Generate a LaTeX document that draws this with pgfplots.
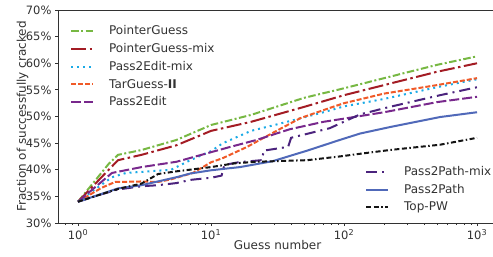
\documentclass[border=0pt]{standalone}
\usepackage{fontspec}
\setmainfont{DejaVu Sans}
\usepackage{pgfplots}
\pgfplotsset{compat=1.18}
\definecolor{cgreen}{RGB}{119,184,67}
\definecolor{cdred}{RGB}{163,28,36}
\definecolor{cdot}{RGB}{26,170,230}
\definecolor{corange}{RGB}{240,90,40}
\definecolor{cpurple}{RGB}{120,40,140}
\definecolor{cindigo}{RGB}{75,35,125}
\definecolor{cblue}{RGB}{80,105,185}
\definecolor{cblack}{RGB}{20,20,20}
\definecolor{cgray}{RGB}{50,50,50}
\tikzset{
  lnPG/.style={draw=cgreen, line width=2bp, dash pattern=on 7.5bp off 2.5bp on 2bp off 2.5bp},
  lnPGm/.style={draw=cdred, line width=2bp, dash pattern=on 15bp off 3.5bp on 2.5bp off 3.5bp},
  lnPEm/.style={draw=cdot, line width=2bp, dash pattern=on 2bp off 4bp},
  lnTG/.style={draw=corange, line width=2bp, dash pattern=on 5bp off 2bp},
  lnPE/.style={draw=cpurple, line width=2bp, dash pattern=on 10bp off 3bp},
  lnPPm/.style={draw=cindigo, line width=2bp, dash pattern=on 11bp off 5bp on 2bp off 5bp},
  lnPP/.style={draw=cblue, line width=2bp, solid},
  lnTop/.style={draw=cblack, line width=2bp, dash pattern=on 5bp off 2.5bp on 5bp off 2.5bp on 1.5bp off 2.5bp},
}
\begin{document}
\begin{tikzpicture}
\useasboundingbox (-58bp,-34bp) rectangle (435bp,223bp);
\begin{semilogxaxis}[
  scale only axis, width=439bp, height=213bp,
  xmin=0.707, xmax=1413, ymin=30, ymax=70,
  xtick={1,10,100,1000},
  xticklabels={10\textsuperscript{0},10\textsuperscript{1},10\textsuperscript{2},10\textsuperscript{3}},
  minor xtick={0.8,0.9,2,3,4,5,6,7,8,9,20,30,40,50,60,70,80,90,200,300,400,500,600,700,800,900},
  ytick={30,35,40,45,50,55,60,65,70},
  yticklabels={30\%,35\%,40\%,45\%,50\%,55\%,60\%,65\%,70\%},
  tick align=outside, tick pos=left,
  major tick length=3bp, minor tick length=2bp,
  axis line style={draw=cgray, line width=0.8bp},
  every tick/.style={cgray, line width=0.8bp},
  tick label style={font=\fontsize{11.5bp}{13bp}\selectfont, text=cgray},
  xlabel={Guess number}, ylabel={Fraction of successfully cracked},
  every axis x label/.style={at={(axis description cs:0.5,-0.103)},anchor=center,
    font=\fontsize{12bp}{14bp}\selectfont, text=cgray},
  every axis y label/.style={at={(axis description cs:-0.0809,0.5)},rotate=90,anchor=center,
    font=\fontsize{12bp}{14bp}\selectfont, text=cgray},
  legend style={draw=none, fill=none, anchor=north west, at={(axis description cs:0.0273,0.936)},
    font=\fontsize{12bp}{14bp}\selectfont, text=cgray, column sep=13bp, row sep=3.2bp, inner sep=0pt},
  legend cell align=left,
  legend image code/.code={\draw[#1] (0bp,0bp) -- (22bp,0bp);},
]
\addplot[lnPG] coordinates {(1,34) (1.7,41.1) (2,42.8) (3,43.7) (5.5,45.6) (10,48.4) (20,50.3) (50,53.5) (100,55.3) (200,57.2) (500,59.7) (1000,61.3)};
\addlegendentry{PointerGuess}
\addplot[lnPGm] coordinates {(1,34) (1.7,40) (2,41.8) (3,42.8) (5.5,44.6) (10,47.3) (20,49) (50,51.8) (100,54) (200,55.9) (500,58.4) (1000,60)};
\addlegendentry{PointerGuess-mix}
\addplot[lnPEm] coordinates {(1,34) (1.8,38.6) (2.3,39.4) (3,39.6) (5,40.0) (7,41.8) (10,43.5) (12.3,45) (20,47.3) (30,48.4) (40,49.2) (70,50.8) (100,51.9) (200,53.3) (500,55.5) (1000,57)};
\addlegendentry{Pass2Edit-mix}
\addplot[lnTG] coordinates {(1,34) (1.5,36.6) (1.9,37.7) (3,37.8) (4,37.7) (5,38.2) (7.3,39.4) (10,41.4) (12.3,42.2) (18.7,44.3) (29,46.9) (47,49.7) (78,51.6) (100,52.5) (200,54.3) (500,55.9) (1000,57.2)};
\addlegendentry{TarGuess-\textbf{II}}
\addplot[lnPE] coordinates {(1,34) (1.8,39.4) (3,40.5) (5.5,41.5) (10,43.3) (14,44.3) (22,45.6) (39,47.6) (70,49) (100,49.6) (200,50.8) (500,52.7) (1000,53.7)};
\addlegendentry{Pass2Edit}
\addplot[lnPPm, forget plot] coordinates {(1,34) (1.5,35.4) (2,36.3) (3,36.9) (4,37.1) (5.5,37.5) (7,38.1) (10,38.5) (12,38.9) (12.6,40.9) (16,41.4) (24,41.8) (25,43.6) (38,44.3) (40,46) (78,47.8) (132,50.4) (220,51.8) (527,54) (1000,55.5)};
\addplot[lnPP, forget plot] coordinates {(1,34) (2,36.5) (3,37.1) (5.5,38.6) (7,39.3) (10,39.9) (16.5,40.5) (29,41.6) (53,43.6) (93,45.6) (132,46.8) (220,48) (527,49.9) (1000,50.8)};
\addplot[lnTop, forget plot] coordinates {(1,34) (2,36.4) (3,37.4) (4,39.2) (5.5,39.7) (10,40.5) (15,41.2) (22,41.5) (53,41.8) (93,42.5) (132,43) (220,43.7) (527,44.7) (1000,46)};
\end{semilogxaxis}
\begin{semilogxaxis}[
  scale only axis, width=439bp, height=213bp,
  xmin=0.707, xmax=1413, ymin=30, ymax=70, hide axis,
  legend style={draw=none, fill=none, anchor=north west, at={(axis description cs:0.6993,0.275)},
    font=\fontsize{12bp}{14bp}\selectfont, text=cgray, column sep=13bp, row sep=3.2bp, inner sep=0pt},
  legend cell align=left,
  legend image code/.code={\draw[#1] (0bp,0bp) -- (22bp,0bp);},
]
\addlegendimage{lnPPm}\addlegendentry{Pass2Path-mix}
\addlegendimage{lnPP}\addlegendentry{Pass2Path}
\addlegendimage{lnTop}\addlegendentry{Top-PW}
\end{semilogxaxis}
\end{tikzpicture}
\end{document}
